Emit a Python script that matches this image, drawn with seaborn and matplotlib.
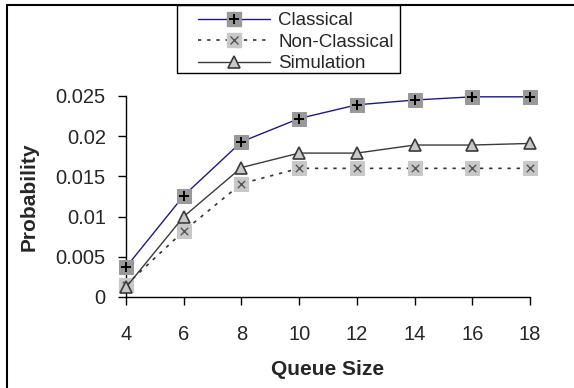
import numpy as np
import pandas as pd
import matplotlib
matplotlib.use("Agg")
import matplotlib.pyplot as plt
from matplotlib.lines import Line2D
from matplotlib.patches import Rectangle
from matplotlib.legend_handler import HandlerTuple
import seaborn as sns

# values
queue_size = [4, 6, 8, 10, 12, 14, 16, 18]
classical = [0.0037, 0.0126, 0.0193, 0.0222, 0.0239, 0.0245, 0.0249, 0.0249]
non_classical = [0.0015, 0.0082, 0.0141, 0.0160, 0.0160, 0.0160, 0.0160, 0.0160]
simulation = [0.0012, 0.0100, 0.0161, 0.0179, 0.0179, 0.0189, 0.0189, 0.0191]

df = pd.DataFrame({"Queue Size": queue_size, "Classical": classical,
                   "Non-Classical": non_classical, "Simulation": simulation})

sns.set_style("white")
plt.rcParams["font.family"] = ["Liberation Sans", "DejaVu Sans"]

W, H = 574, 388
fig = plt.figure(figsize=(W / 100, H / 100), dpi=100)
ax = fig.add_axes([126 / W, 1 - 297 / H, (530 - 126) / W, (297 - 96) / H])

# Non-Classical: dotted line, light grey squares with an x
sns.lineplot(data=df, x="Queue Size", y="Non-Classical", ax=ax, color="#333333",
             lw=1.2, linestyle=(0, (2, 3.5)), marker="s", markersize=10,
             markerfacecolor="#c8c8c8", markeredgecolor="#c8c8c8", clip_on=False, zorder=3)
sns.scatterplot(data=df, x="Queue Size", y="Non-Classical", ax=ax, marker="x",
                s=28, color="#555555", linewidth=1.0, clip_on=False, zorder=4)

# Simulation: solid dark grey, triangles
sns.lineplot(data=df, x="Queue Size", y="Simulation", ax=ax, color="#3a3a3a",
             lw=1.0, marker="^", markersize=9, markerfacecolor="#c8c8c8",
             markeredgecolor="#3a3a3a", markeredgewidth=1.2, clip_on=False, zorder=5)

# Classical: navy line, dark grey squares with a +
sns.lineplot(data=df, x="Queue Size", y="Classical", ax=ax, color="#1a1a8c",
             lw=1.0, marker="s", markersize=10.5, markerfacecolor="#999999",
             markeredgecolor="#999999", clip_on=False, zorder=6)
sns.scatterplot(data=df, x="Queue Size", y="Classical", ax=ax, marker="+",
                s=45, color="black", linewidth=1.4, clip_on=False, zorder=7)

ax.set_xlim(4, 18)
ax.set_ylim(0, 0.025)
ax.set_xticks(queue_size)
ax.set_yticks([0, 0.005, 0.01, 0.015, 0.02, 0.025])
ax.set_yticklabels(["0", "0.005", "0.01", "0.015", "0.02", "0.025"])
for s in ["top", "right"]:
    ax.spines[s].set_visible(False)
for s in ["left", "bottom"]:
    ax.spines[s].set_color("black")
    ax.spines[s].set_linewidth(1.0)
ax.tick_params(axis="both", direction="out", length=5.5, width=1, color="black",
               labelsize=14.5, left=True, bottom=True)
ax.tick_params(axis="x", pad=15)
ax.tick_params(axis="y", pad=9)
ax.set_xlabel("Queue Size", fontsize=15, fontweight="bold", labelpad=11)
ax.set_ylabel("Probability", fontsize=15, fontweight="bold", labelpad=12)

h_cl = (Line2D([], [], color="#1a1a8c", lw=1.0, marker="s", markersize=10.5,
               markerfacecolor="#999999", markeredgecolor="#999999"),
        Line2D([], [], ls="none", marker="+", markersize=7, color="black", mew=1.4))
h_nc = (Line2D([], [], color="#333333", lw=1.2, linestyle=(0, (2, 3.5)), marker="s",
               markersize=10, markerfacecolor="#c8c8c8", markeredgecolor="#c8c8c8"),
        Line2D([], [], ls="none", marker="x", markersize=5.5, color="#555555", mew=1.0))
h_si = Line2D([], [], color="#3a3a3a", lw=1.0, marker="^", markersize=9,
              markerfacecolor="#c8c8c8", markeredgecolor="#3a3a3a", markeredgewidth=1.2)
leg = fig.legend([h_cl, h_nc, h_si], ["Classical", "Non-Classical", "Simulation"],
                 handler_map={tuple: HandlerTuple(ndivide=1)},
                 loc="upper left", bbox_to_anchor=(198 / W, 1 - 12 / H), borderaxespad=0,
                 frameon=False, fontsize=13.5, handlelength=3.85, handletextpad=0.43,
                 labelspacing=0.24, borderpad=0)

# legend box and chart border (left and top edges visible)
fig.add_artist(Rectangle((177 / W, 1 - 73 / H), (400 - 177) / W, (73 - 5) / H,
                         transform=fig.transFigure, fill=False, ec="black", lw=1.0))
fig.add_artist(Line2D([7 / W, 7 / W], [0, 1 - 5 / H], color="black", lw=1.5))
fig.add_artist(Line2D([7 / W, 1], [1 - 5 / H, 1 - 5 / H], color="black", lw=1.5))

fig.savefig("out.png", dpi=100)
